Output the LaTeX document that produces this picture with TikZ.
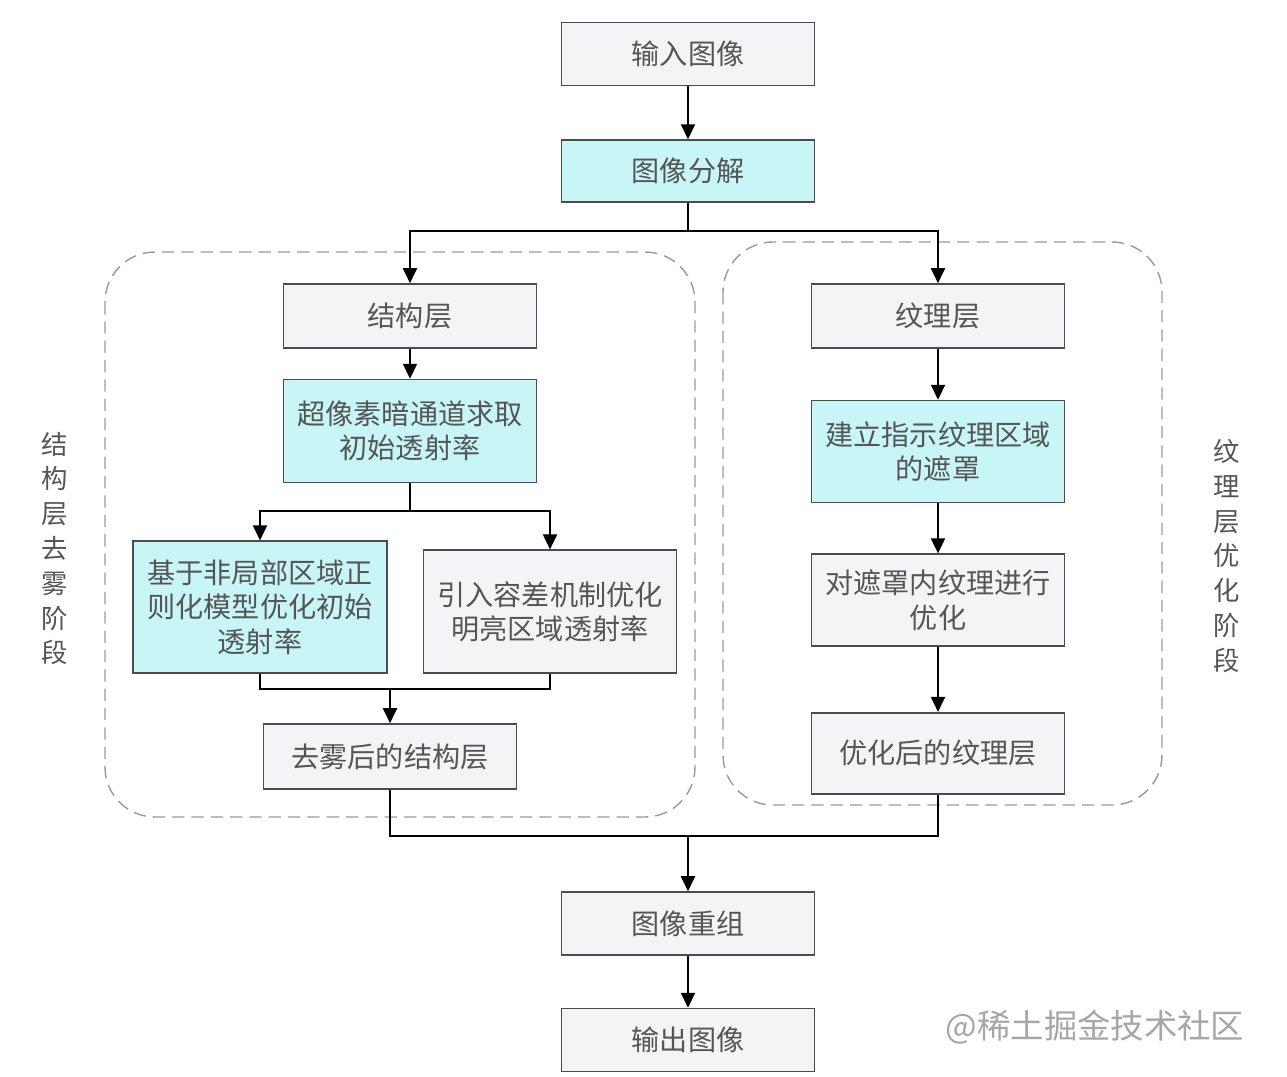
\documentclass[tikz,border=0pt]{standalone}
\usepackage{fontspec}
\newfontfamily\cjk{Noto Sans CJK SC}
\usepackage{tikz}
\usetikzlibrary{positioning, arrows.meta}
\usepackage{xcolor}
\definecolor{layercyan}{RGB}{200,246,246}
\definecolor{boxgray}{RGB}{244,244,246}
\definecolor{textgray}{RGB}{85,85,85}

\begin{document}
\begin{tikzpicture}[
        node distance=1cm,
        block/.style={
            rectangle,
            draw=black!70,
            line width=0.9pt,
            fill=boxgray,
            align=center,
            text=textgray,
            minimum width=5.06cm,
            minimum height=1.26cm,
            font=\cjk\fontsize{16pt}{19.5pt}\selectfont
        },
        hilite/.style={
            block,
            fill=layercyan
        },
        arrow/.style={
            -{Triangle[length=3mm, width=2.8mm]},
            line width=1.1pt
        },
        link/.style={
            line width=1.1pt
        },
        stage/.style={
            draw=black!40,
            line width=0.8pt,
            dash pattern=on 7pt off 4pt,
            rounded corners=1cm
        },
        stagelabel/.style={
            align=center,
            text=textgray,
            font=\cjk\fontsize{15pt}{19.8pt}\selectfont
        }
    ]

        \useasboundingbox (0,0) rectangle (25.74,-21.54);

        % dashed stage frames
        \draw[stage] (2.1,-5.04) rectangle (13.9,-16.34);
        \draw[stage] (14.46,-4.84) rectangle (23.24,-16.1);
        \node[stagelabel] (leftlabel) at (1.1,-10.97) {结\\构\\层\\去\\雾\\阶\\段};
        \node[stagelabel] (rightlabel) at (24.54,-11.12) {纹\\理\\层\\优\\化\\阶\\段};

        % main column
        \node[block] (input) at (13.76,-1.08) {输入图像};
        \node[hilite, below=1.06cm of input, minimum height=1.24cm] (decomp) {图像分解};

        % structure layer
        \node[block, minimum height=1.28cm] (struct) at (8.2,-6.32) {结构层};
        \node[hilite, below=0.6cm of struct, minimum height=2.06cm] (darkch) {超像素暗通道求取\\初始透射率};
        \node[hilite, anchor=south, minimum width=5.08cm, minimum height=2.64cm] (nonlocal) at (5.2,-13.48) {基于非局部区域正\\则化模型优化初始\\透射率};
        \node[block, anchor=south, minimum height=2.46cm] (tolerance) at (11.0,-13.48) {引入容差机制优化\\明亮区域透射率};
        \node[block, minimum height=1.3cm] (dehazed) at (7.8,-15.13) {去雾后的结构层};

        % texture layer
        \node[block, minimum height=1.28cm] (texture) at (18.76,-6.32) {纹理层};
        \node[hilite, below=1.02cm of texture, minimum height=2.04cm] (mask) {建立指示纹理区域\\的遮罩};
        \node[block, below=1.0cm of mask, minimum height=1.84cm] (maskopt) {对遮罩内纹理进行\\优化};
        \node[block, below=1.3cm of maskopt, minimum height=1.62cm] (texopt) {优化后的纹理层};

        % recombination
        \node[block] (recomb) at (13.76,-18.47) {图像重组};
        \node[block, below=1.04cm of recomb] (output) {输出图像};

        \node[text=black!35, font=\cjk\fontsize{19pt}{22pt}\selectfont] (mark) at (21.9,-20.54) {@稀土掘金技术社区};

        \coordinate (split0) at (13.76,-4.62);
        \coordinate (split1) at (8.2,-10.22);
        \coordinate (join1) at (7.8,-13.78);
        \coordinate (join2) at (13.76,-16.72);

        \draw[arrow] (input) -- (decomp);
        \draw[link] (decomp.south) -- (split0);
        \draw[arrow] (split0) -| (struct.north);
        \draw[arrow] (split0) -| (texture.north);

        \draw[arrow] (struct) -- (darkch);
        \draw[link] (darkch.south) -- (split1);
        \draw[arrow] (split1) -| (nonlocal.north);
        \draw[arrow] (split1) -| (tolerance.north);
        \draw[link] (nonlocal.south) |- (join1) -| (tolerance.south);
        \draw[arrow] (join1) -- (dehazed.north);

        \draw[arrow] (texture) -- (mask);
        \draw[arrow] (mask) -- (maskopt);
        \draw[arrow] (maskopt) -- (texopt);

        \draw[link] (dehazed.south) |- (join2) -| (texopt.south);
        \draw[arrow] (join2) -- (recomb.north);
        \draw[arrow] (recomb) -- (output);

    \end{tikzpicture}
\end{document}
